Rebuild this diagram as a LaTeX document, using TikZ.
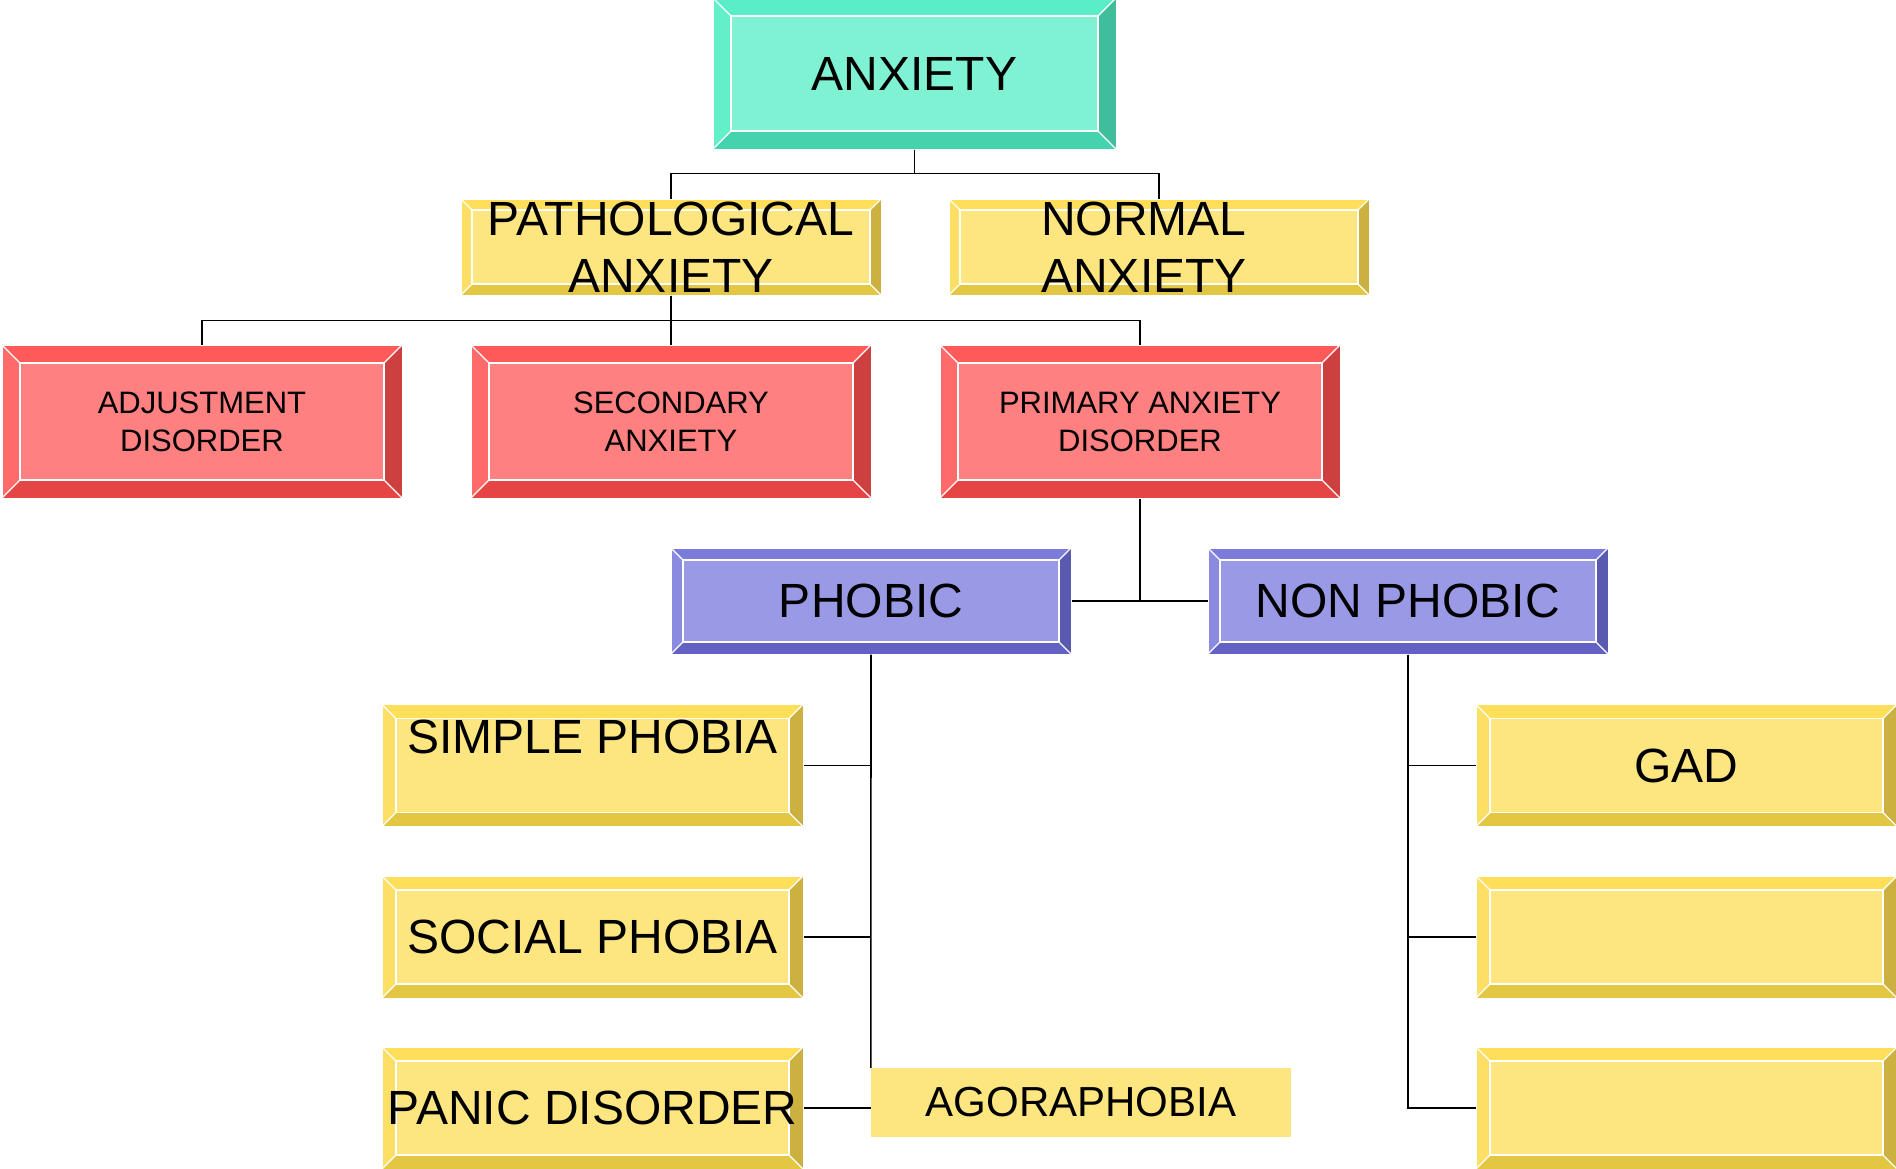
\documentclass[tikz,border=0pt]{standalone}
\usepackage{fontspec}
\setmainfont{Liberation Sans}
\usepackage{tikz}

\definecolor{tealface}{HTML}{80F2D4}
\definecolor{tealtop}{HTML}{5AEEC8}
\definecolor{tealleft}{HTML}{62EFCA}
\definecolor{tealbot}{HTML}{45D3AE}
\definecolor{tealright}{HTML}{40BE9C}
\definecolor{yellface}{HTML}{FDE57F}
\definecolor{yelltop}{HTML}{FFDE5A}
\definecolor{yellleft}{HTML}{FEDF66}
\definecolor{yellbot}{HTML}{E3C642}
\definecolor{yellright}{HTML}{CCB040}
\definecolor{redface}{HTML}{FF8080}
\definecolor{redtop}{HTML}{FF5A5A}
\definecolor{redleft}{HTML}{FF6A6A}
\definecolor{redbot}{HTML}{E54545}
\definecolor{redright}{HTML}{CC4040}
\definecolor{purpface}{HTML}{9999E5}
\definecolor{purptop}{HTML}{7B7BDB}
\definecolor{purpleft}{HTML}{8A8AE0}
\definecolor{purpbot}{HTML}{6262C4}
\definecolor{purpright}{HTML}{5A5AB0}

\newcommand\bigtxt{\fontsize{48}{57}\selectfont}
\newcommand\midtxt{\fontsize{31}{38}\selectfont}

\tikzset{
    bev/.store in=\bevw, bev=14pt,
    bevelbox/.style={fill=#1face, draw=white, line width=1pt, inner sep=0pt, align=center,
        path picture={
            \path (path picture bounding box.north west) coordinate (nw)
                  (path picture bounding box.north east) coordinate (ne)
                  (path picture bounding box.south east) coordinate (se)
                  (path picture bounding box.south west) coordinate (sw);
            \fill[#1top] (nw) -- (ne) -- ([xshift=-\bevw,yshift=-\bevw]ne) -- ([xshift=\bevw,yshift=-\bevw]nw) -- cycle;
            \fill[#1left] (nw) -- (sw) -- ([xshift=\bevw,yshift=\bevw]sw) -- ([xshift=\bevw,yshift=-\bevw]nw) -- cycle;
            \fill[#1bot] (sw) -- (se) -- ([xshift=-\bevw,yshift=\bevw]se) -- ([xshift=\bevw,yshift=\bevw]sw) -- cycle;
            \fill[#1right] (ne) -- (se) -- ([xshift=-\bevw,yshift=\bevw]se) -- ([xshift=-\bevw,yshift=-\bevw]ne) -- cycle;
            \draw[white, line width=1.2pt] ([xshift=\bevw,yshift=-\bevw]nw) rectangle ([xshift=-\bevw,yshift=\bevw]se);
            \draw[white, line width=1.2pt] (nw) -- ([xshift=\bevw,yshift=-\bevw]nw)
                (ne) -- ([xshift=-\bevw,yshift=-\bevw]ne)
                (se) -- ([xshift=-\bevw,yshift=\bevw]se)
                (sw) -- ([xshift=\bevw,yshift=\bevw]sw);
        }},
    link/.style={draw=black, line width=1.6pt}
}

\begin{document}
\begin{tikzpicture}[x=1pt, y=-1pt]
        \useasboundingbox (0,0) rectangle (1896,1168);
        % top level
        \node[bevelbox=teal, bev=18pt, minimum width=403pt, minimum height=151pt, font=\bigtxt] (anx) at (914.5,73.5) {ANXIETY};
        \node[bevelbox=yell, bev=11pt, minimum width=420pt, minimum height=96pt, font=\bigtxt] (patho) at (671,247) {PATHOLOGICAL\\ANXIETY};
        \node[bevelbox=yell, bev=11pt, minimum width=420pt, minimum height=96pt, font=\bigtxt] (normal) at (1159,247) {\hspace*{-30pt}NORMAL\\\hspace*{-30pt}ANXIETY};
        % red row
        \node[bevelbox=red, bev=18pt, minimum width=400pt, minimum height=153pt, font=\midtxt] (adjust) at (202,421.5) {ADJUSTMENT\\DISORDER};
        \node[bevelbox=red, bev=18pt, minimum width=400pt, minimum height=153pt, font=\midtxt] (second) at (671,421.5) {SECONDARY\\ANXIETY};
        \node[bevelbox=red, bev=18pt, minimum width=400pt, minimum height=153pt, font=\midtxt] (primary) at (1140,421.5) {PRIMARY ANXIETY\\DISORDER};
        % phobic / non phobic
        \node[bevelbox=purp, bev=12pt, minimum width=400pt, minimum height=106pt, font=\bigtxt] (phobic) at (871,601) {PHOBIC};
        \node[bevelbox=purp, bev=12pt, minimum width=400pt, minimum height=106pt, font=\bigtxt] (nonphob) at (1408,601) {NON PHOBIC};
        % phobias
        \node[bevelbox=yell, minimum width=421pt, minimum height=122pt, font=\bigtxt] (simple) at (592.5,765.5) {\raisebox{12pt}[0pt][0pt]{SIMPLE PHOBIA}};
        \node[bevelbox=yell, minimum width=421pt, minimum height=122pt, font=\bigtxt] (social) at (592.5,937) {SOCIAL PHOBIA};
        \node[bevelbox=yell, minimum width=421pt, minimum height=122pt, font=\bigtxt] (panic) at (592.5,1108) {PANIC DISORDER};
        \node[fill=yellface, inner sep=0pt, minimum width=420pt, minimum height=69pt, font=\fontsize{42}{48}\selectfont] (agora) at (1081,1102.5) {AGORAPHOBIA};
        % non phobic group
        \node[bevelbox=yell, minimum width=421pt, minimum height=122pt, font=\bigtxt] (gad) at (1686.5,765.5) {GAD};
        \node[bevelbox=yell, minimum width=421pt, minimum height=122pt] (other) at (1686.5,937) {};
        \node[bevelbox=yell, minimum width=421pt, minimum height=122pt] (rest) at (1686.5,1108) {};

        % connectors
        \draw[link] (anx.south) -- ++(0,24) -| (patho.north);
        \draw[link] (anx.south) -- ++(0,24) -| (normal.north);
        \draw[link] (patho.south) -- (second.north);
        \draw[link] (patho.south) -- ++(0,25) -| (adjust.north);
        \draw[link] (patho.south) -- ++(0,25) -| (primary.north);
        \draw[link] (phobic.east) -- (nonphob.west);
        \draw[link] (primary.south) -- (primary.south |- phobic.east);
        \draw[link] (phobic.south) -- (agora.north west);
        \draw[link] (simple.east) -- (simple.east -| phobic.south);
        \draw[link] (social.east) -- (social.east -| phobic.south);
        \draw[link] (panic.east) -- (panic.east -| agora.west);
        \draw[link] (nonphob.south) |- (gad.west);
        \draw[link] (nonphob.south) |- (other.west);
        \draw[link] (nonphob.south) |- (rest.west);
    \end{tikzpicture}
\end{document}
